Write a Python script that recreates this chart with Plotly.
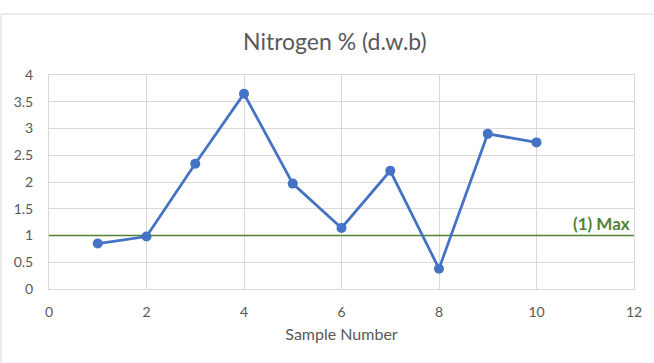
import plotly.graph_objects as go

sample_number = [1, 2, 3, 4, 5, 6, 7, 8, 9, 10]
nitrogen_pct = [0.85, 0.98, 2.34, 3.65, 1.97, 1.14, 2.21, 0.38, 2.90, 2.74]
max_limit = 1.0
max_label = "(1) Max"
x_range = [0, 12]
y_range = [0, 4]

FONT = "Lato, Open Sans, sans-serif"

fig = go.Figure()
fig.add_trace(go.Scatter(
    x=x_range, y=[max_limit, max_limit], mode="lines",
    line=dict(color="#548235", width=1.5), hoverinfo="skip", showlegend=False))
fig.add_trace(go.Scatter(
    x=sample_number, y=nitrogen_pct, mode="lines+markers",
    line=dict(color="#4472C4", width=2.75),
    marker=dict(color="#4472C4", size=10), showlegend=False))

fig.add_annotation(x=x_range[1], y=max_limit, xref="x", yref="y",
                   text="<b>" + max_label + "</b>", showarrow=False,
                   xanchor="right", yanchor="bottom", xshift=-2, yshift=0,
                   font=dict(family=FONT, size=17, color="#548235"))

fig.add_shape(type="rect", xref="paper", yref="paper",
              x0=-0.082, x1=1.05, y0=-0.4, y1=1.285,
              line=dict(color="#d9d9d9", width=1), layer="below")

axis_font = dict(family=FONT, size=14, color="#595959")
fig.update_layout(
    width=654, height=363,
    margin=dict(l=49, r=20, t=75, b=74),
    paper_bgcolor="white", plot_bgcolor="white",
    title=dict(text="Nitrogen % (d.w.b)", x=0.512, xanchor="center", y=0.885, yanchor="middle",
               font=dict(family=FONT, size=23, color="#595959")),
    xaxis=dict(range=x_range, dtick=2, showgrid=True, gridcolor="#d9d9d9",
               zeroline=False, showline=True, mirror=True, linecolor="#d9d9d9",
               tickfont=axis_font, ticks="", ticklabelstandoff=10,
               title=dict(text="Sample Number", standoff=10,
                          font=dict(family=FONT, size=16, color="#595959"))),
    yaxis=dict(range=y_range, dtick=0.5, showgrid=True, gridcolor="#d9d9d9",
               zeroline=False, showline=True, mirror=True, linecolor="#d9d9d9",
               tickfont=axis_font, ticks="", ticklabelstandoff=12),
)

fig.write_html("out.html")
